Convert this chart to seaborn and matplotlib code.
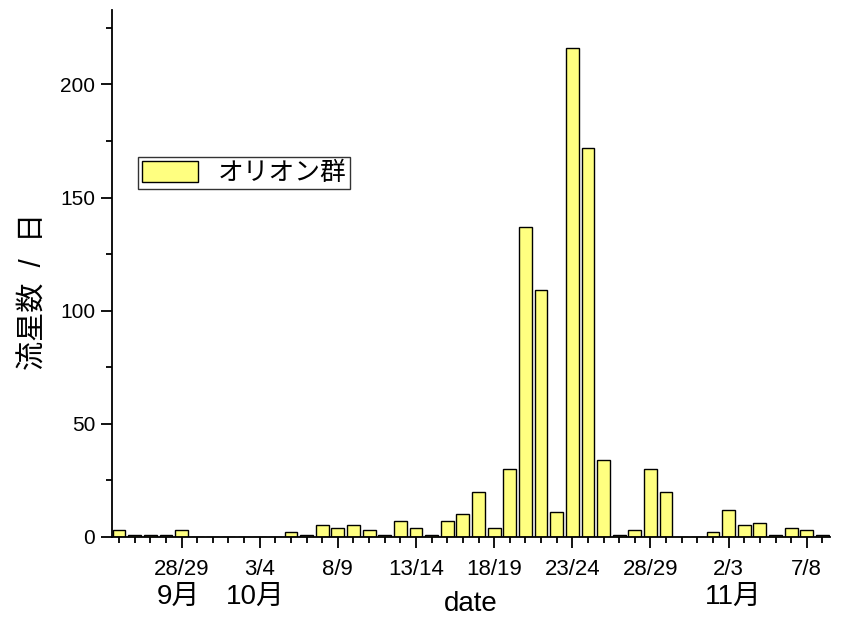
import numpy as np
import pandas as pd
import matplotlib
matplotlib.use("Agg")
import matplotlib.pyplot as plt
import seaborn as sns

# nightly counts, night of Sep 24/25 through Nov 8/9
dates = pd.date_range("2006-09-24", "2006-11-08", freq="D")
counts = [
    3, 1, 1, 1, 3, 0, 0,                      # Sep 24-30
    0, 0, 0, 0, 2, 1, 5, 4, 5, 3,             # Oct 1-10
    1, 7, 4, 1, 7, 10, 20, 4, 30, 137,        # Oct 11-20
    109, 11, 216, 172, 34, 1, 3, 30, 20, 0,   # Oct 21-30
    0,                                        # Oct 31
    2, 12, 5, 6, 1, 4, 3, 1,                  # Nov 1-8
]
month_labels = ["9月", "10月", "11月"]
month_pos = [3.8, 8.7, 39.3]
series_name = "オリオン群"

nights = [f"{d.day}/{(d + pd.Timedelta(days=1)).day}" for d in dates]
df = pd.DataFrame({"date": dates.strftime("%m-%d"), "count": counts})

sns.set_theme(style="ticks")
plt.rcParams["font.family"] = ["Liberation Sans", "Noto Sans CJK JP"]
plt.rcParams.update({"text.color": "black", "axes.labelcolor": "black",
                     "xtick.color": "black", "ytick.color": "black"})

fig = plt.figure(figsize=(8.42, 6.17), dpi=100)
ax = fig.add_axes([0.133, 0.13, 0.853, 0.854])

sns.barplot(
    data=df, x="date", y="count", ax=ax,
    color="#FFFF80", saturation=1, edgecolor="black", linewidth=1.0,
    width=0.82, label=series_name,
)

ax.set_xlim(-0.45, 45.5)
ax.set_ylim(0, 233)

major = list(range(4, len(nights), 5))
ax.set_xticks(major)
ax.set_xticklabels([nights[i] for i in major])
ax.set_xticks(range(len(nights)), minor=True)
ax.set_yticks([0, 50, 100, 150, 200])
ax.set_yticks([25, 75, 125, 175, 225], minor=True)

ax.tick_params(axis="both", which="major", length=8, width=1.3, labelsize=15, color="black")
ax.tick_params(axis="both", which="minor", length=4.5, width=1.3, color="black")
ax.tick_params(axis="x", which="major", pad=8, labelsize=16)
ax.tick_params(axis="y", which="major", pad=4)

for side in ["top", "right"]:
    ax.spines[side].set_visible(False)
for side in ["left", "bottom"]:
    ax.spines[side].set_linewidth(1.3)
    ax.spines[side].set_color("black")

ax.set_xlabel("date", fontsize=20)
ax.xaxis.set_label_coords(0.5, -0.103)
ax.set_ylabel("流星数  /  日", fontsize=21)
ax.yaxis.set_label_coords(-0.09, 0.465)

for lab, pos in zip(month_labels, month_pos):
    ax.text(pos, -0.114, lab, transform=ax.get_xaxis_transform(),
            ha="center", va="center", fontsize=20)

leg = ax.legend(
    loc="upper left", bbox_to_anchor=(0.036, 0.72), fontsize=18.5,
    frameon=True, fancybox=False, handlelength=2.2, handleheight=0.85,
    borderpad=0.15, handletextpad=0.75, borderaxespad=0,
)
leg.get_frame().set_edgecolor("black")
leg.get_frame().set_linewidth(1.0)

fig.savefig("out.png", dpi=100)
